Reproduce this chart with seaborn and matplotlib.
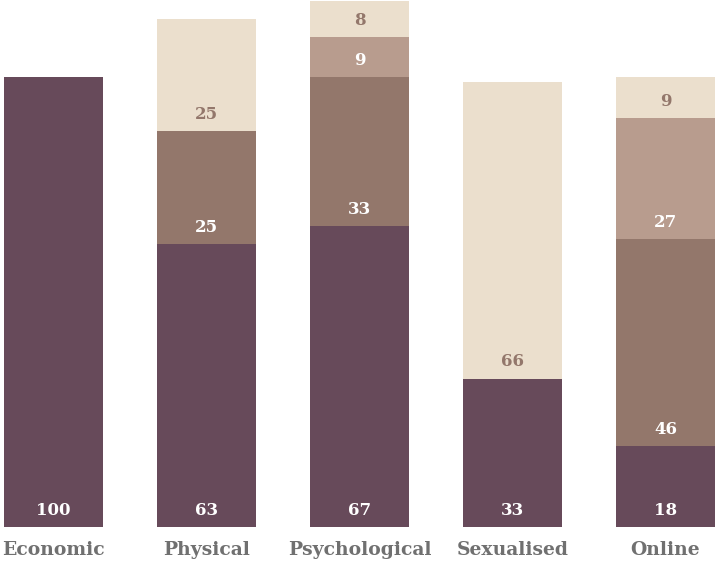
import matplotlib
matplotlib.use("Agg")
import matplotlib.pyplot as plt
import seaborn as sns
import numpy as np
import pandas as pd

categories = ["Economic", "Physical", "Psychological", "Sexualised", "Online"]
series_1 = [100, 63, 67, 33, 18]
series_2 = [0, 25, 33, 0, 46]
series_3 = [0, 0, 9, 0, 27]
series_4 = [0, 25, 8, 66, 9]

colors = ["#674a5a", "#93776b", "#b89c8e", "#ebdfcd"]
label_colors = ["white", "white", "white", "#93776b"]

sns.set_theme(style="white")
plt.rcParams["font.family"] = ["DejaVu Serif"]

fig = plt.figure(figsize=(7.15, 5.62), dpi=100)
ax = fig.add_axes([0, 35 / 562, 1, 527 / 562])

layers = [series_1, series_2, series_3, series_4]
cum = np.cumsum(np.array(layers), axis=0)

# draw from tallest cumulative to shortest so lower layers overlay
for i in range(len(layers) - 1, -1, -1):
    df = pd.DataFrame({"cat": categories, "val": cum[i]})
    sns.barplot(data=df, x="cat", y="val", order=categories, color=colors[i],
                saturation=1, width=0.647, linewidth=0, ax=ax)

for i, layer in enumerate(layers):
    bottoms = cum[i] - np.array(layer)
    for j, v in enumerate(layer):
        if v > 0:
            ax.annotate(str(v), xy=(j, bottoms[j]), xytext=(0, 12),
                        textcoords="offset points", ha="center", va="center",
                        fontsize=12, fontweight="bold", color=label_colors[i])

ax.set_xlim(-53.5 / 153, (715 - 53.5) / 153)
ax.set_ylim(0, 117.2)
ax.set_xlabel("")
ax.set_ylabel("")
ax.set_yticks([])
ax.tick_params(axis="x", length=0, pad=10)
for lab in ax.get_xticklabels():
    lab.set_fontweight("bold")
    lab.set_fontsize(13.5)
    lab.set_color("#707070")
for s in ax.spines.values():
    s.set_visible(False)
ax.grid(False)

fig.savefig("out.png", dpi=100)
